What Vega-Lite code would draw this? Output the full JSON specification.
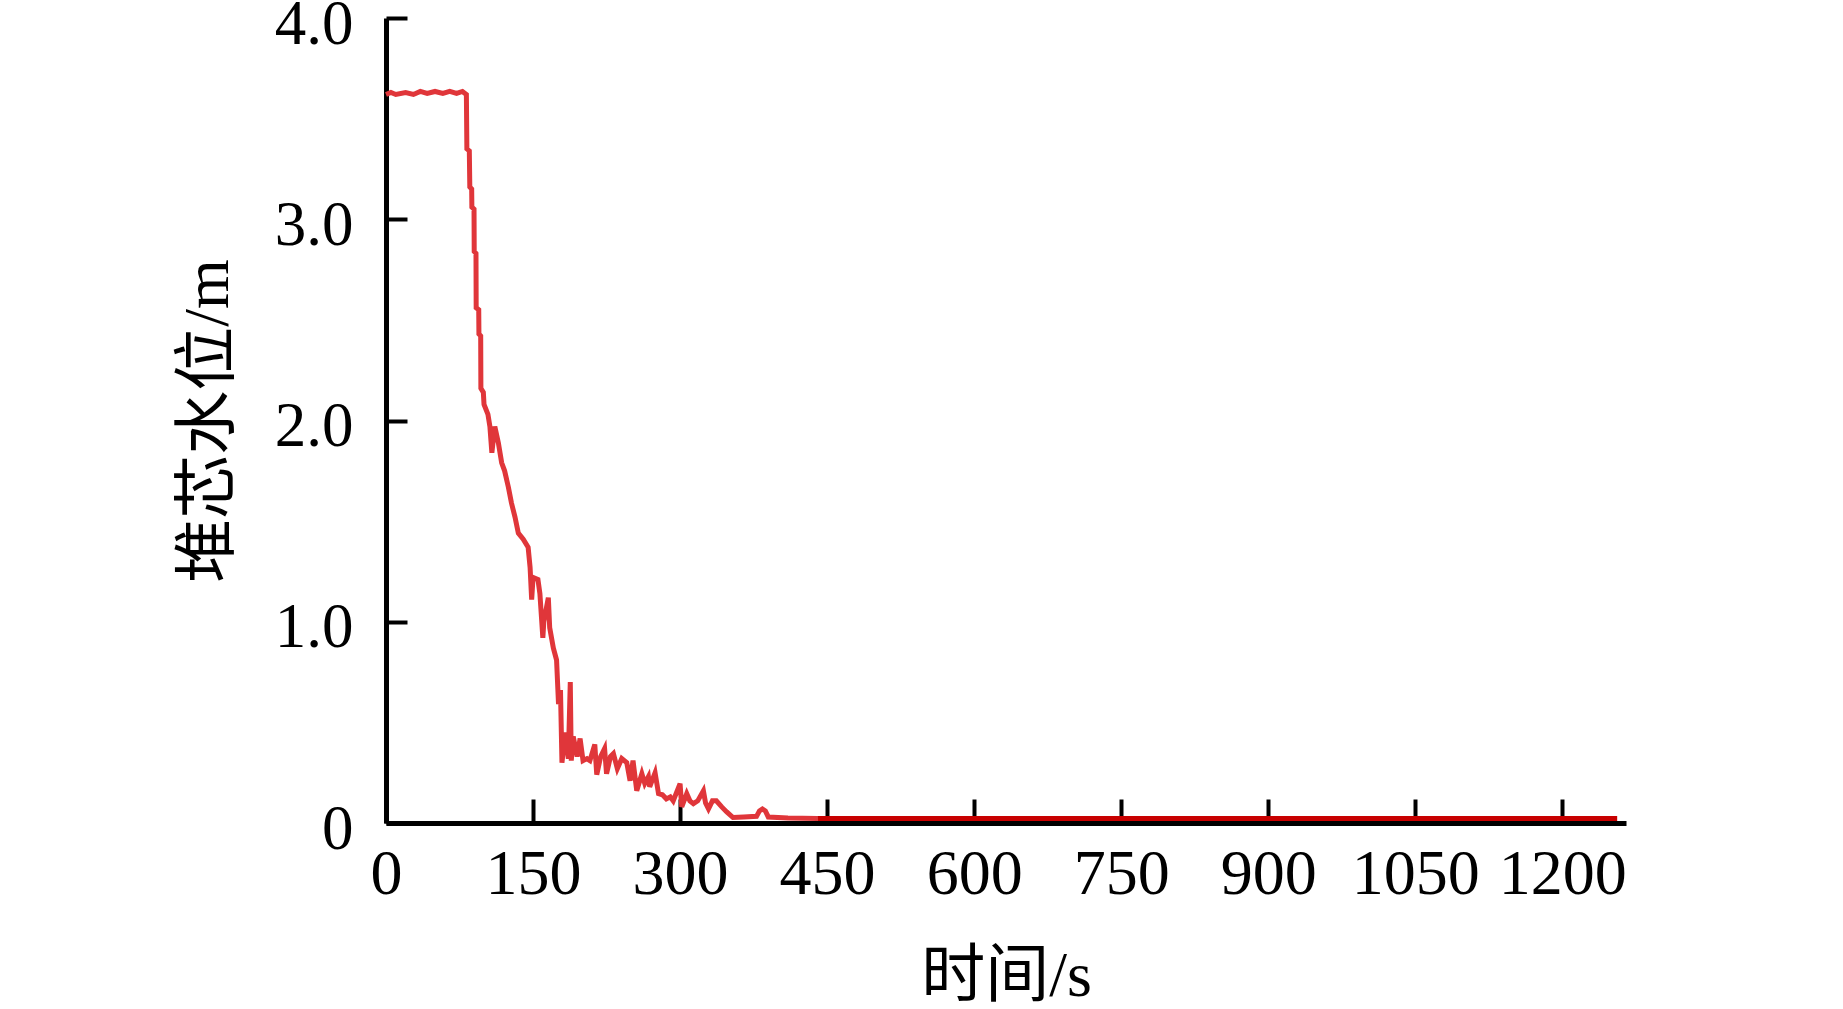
{
  "$schema": "https://vega.github.io/schema/vega-lite/v6.json",
  "autosize": {"type": "none"},
  "padding": {"left": 386, "top": 18, "right": 217, "bottom": 186},
  "width": 1240,
  "height": 805,
  "background": "white",
  "config": {
    "view": {"stroke": null},
    "font": "Liberation Serif, Noto Sans CJK SC",
    "axis": {
      "grid": false,
      "domainColor": "black",
      "domainWidth": 5,
      "tickColor": "black",
      "tickWidth": 4,
      "labelColor": "black",
      "titleColor": "black",
      "labelFont": "Liberation Serif",
      "titleFont": "Liberation Serif, Noto Sans CJK SC",
      "titleFontWeight": "normal"
    }
  },
  "data": {
    "values": [
      {"t": 0, "h": 3.62, "seg": "a"},
      {"t": 5, "h": 3.63, "seg": "a"},
      {"t": 10, "h": 3.62, "seg": "a"},
      {"t": 20, "h": 3.63, "seg": "a"},
      {"t": 28, "h": 3.62, "seg": "a"},
      {"t": 35, "h": 3.635, "seg": "a"},
      {"t": 42, "h": 3.625, "seg": "a"},
      {"t": 50, "h": 3.635, "seg": "a"},
      {"t": 58, "h": 3.625, "seg": "a"},
      {"t": 65, "h": 3.635, "seg": "a"},
      {"t": 72, "h": 3.625, "seg": "a"},
      {"t": 78, "h": 3.635, "seg": "a"},
      {"t": 82, "h": 3.62, "seg": "a"},
      {"t": 82.5, "h": 3.35, "seg": "a"},
      {"t": 85, "h": 3.34, "seg": "a"},
      {"t": 85.5, "h": 3.16, "seg": "a"},
      {"t": 87.4, "h": 3.15, "seg": "a"},
      {"t": 87.6, "h": 3.06, "seg": "a"},
      {"t": 89.8, "h": 3.05, "seg": "a"},
      {"t": 90, "h": 2.84, "seg": "a"},
      {"t": 91.8, "h": 2.83, "seg": "a"},
      {"t": 92, "h": 2.56, "seg": "a"},
      {"t": 94.6, "h": 2.55, "seg": "a"},
      {"t": 94.8, "h": 2.43, "seg": "a"},
      {"t": 96.6, "h": 2.42, "seg": "a"},
      {"t": 96.8, "h": 2.16, "seg": "a"},
      {"t": 99.3, "h": 2.14, "seg": "a"},
      {"t": 100, "h": 2.08, "seg": "a"},
      {"t": 104, "h": 2.03, "seg": "a"},
      {"t": 106, "h": 1.97, "seg": "a"},
      {"t": 108, "h": 1.84, "seg": "a"},
      {"t": 111, "h": 1.97, "seg": "a"},
      {"t": 114.6, "h": 1.89, "seg": "a"},
      {"t": 118, "h": 1.79, "seg": "a"},
      {"t": 121, "h": 1.75, "seg": "a"},
      {"t": 124.8, "h": 1.67, "seg": "a"},
      {"t": 128, "h": 1.59, "seg": "a"},
      {"t": 131.6, "h": 1.52, "seg": "a"},
      {"t": 135, "h": 1.44, "seg": "a"},
      {"t": 140, "h": 1.41, "seg": "a"},
      {"t": 145, "h": 1.37, "seg": "a"},
      {"t": 147, "h": 1.27, "seg": "a"},
      {"t": 148.6, "h": 1.11, "seg": "a"},
      {"t": 150, "h": 1.22, "seg": "a"},
      {"t": 155, "h": 1.21, "seg": "a"},
      {"t": 157, "h": 1.14, "seg": "a"},
      {"t": 160, "h": 0.92, "seg": "a"},
      {"t": 161, "h": 1.0, "seg": "a"},
      {"t": 165.6, "h": 1.12, "seg": "a"},
      {"t": 167, "h": 0.97, "seg": "a"},
      {"t": 170.7, "h": 0.87, "seg": "a"},
      {"t": 174, "h": 0.81, "seg": "a"},
      {"t": 176, "h": 0.59, "seg": "a"},
      {"t": 178, "h": 0.66, "seg": "a"},
      {"t": 179.5, "h": 0.30, "seg": "a"},
      {"t": 183, "h": 0.45, "seg": "a"},
      {"t": 186, "h": 0.32, "seg": "a"},
      {"t": 188, "h": 0.70, "seg": "a"},
      {"t": 189, "h": 0.31, "seg": "a"},
      {"t": 191, "h": 0.43, "seg": "a"},
      {"t": 195, "h": 0.33, "seg": "a"},
      {"t": 198, "h": 0.42, "seg": "a"},
      {"t": 201, "h": 0.31, "seg": "a"},
      {"t": 205, "h": 0.32, "seg": "a"},
      {"t": 208, "h": 0.31, "seg": "a"},
      {"t": 213, "h": 0.39, "seg": "a"},
      {"t": 215, "h": 0.24, "seg": "a"},
      {"t": 219, "h": 0.33, "seg": "a"},
      {"t": 223, "h": 0.37, "seg": "a"},
      {"t": 225, "h": 0.245, "seg": "a"},
      {"t": 229, "h": 0.33, "seg": "a"},
      {"t": 232, "h": 0.345, "seg": "a"},
      {"t": 236, "h": 0.27, "seg": "a"},
      {"t": 240.5, "h": 0.32, "seg": "a"},
      {"t": 245.6, "h": 0.30, "seg": "a"},
      {"t": 249, "h": 0.21, "seg": "a"},
      {"t": 252, "h": 0.31, "seg": "a"},
      {"t": 255.8, "h": 0.16, "seg": "a"},
      {"t": 261, "h": 0.245, "seg": "a"},
      {"t": 264, "h": 0.196, "seg": "a"},
      {"t": 267.7, "h": 0.23, "seg": "a"},
      {"t": 269, "h": 0.18, "seg": "a"},
      {"t": 274.5, "h": 0.25, "seg": "a"},
      {"t": 278, "h": 0.146, "seg": "a"},
      {"t": 282, "h": 0.14, "seg": "a"},
      {"t": 286, "h": 0.12, "seg": "a"},
      {"t": 290, "h": 0.13, "seg": "a"},
      {"t": 293, "h": 0.11, "seg": "a"},
      {"t": 300, "h": 0.196, "seg": "a"},
      {"t": 301.7, "h": 0.08, "seg": "a"},
      {"t": 306.8, "h": 0.146, "seg": "a"},
      {"t": 310, "h": 0.11, "seg": "a"},
      {"t": 313.6, "h": 0.096, "seg": "a"},
      {"t": 318, "h": 0.11, "seg": "a"},
      {"t": 323.8, "h": 0.16, "seg": "a"},
      {"t": 326, "h": 0.10, "seg": "a"},
      {"t": 329, "h": 0.07, "seg": "a"},
      {"t": 333, "h": 0.11, "seg": "a"},
      {"t": 337, "h": 0.11, "seg": "a"},
      {"t": 342.5, "h": 0.08, "seg": "a"},
      {"t": 347.6, "h": 0.055, "seg": "a"},
      {"t": 354, "h": 0.027, "seg": "a"},
      {"t": 365, "h": 0.03, "seg": "a"},
      {"t": 378, "h": 0.033, "seg": "a"},
      {"t": 381, "h": 0.06, "seg": "a"},
      {"t": 384, "h": 0.07, "seg": "a"},
      {"t": 387, "h": 0.06, "seg": "a"},
      {"t": 390, "h": 0.03, "seg": "a"},
      {"t": 410, "h": 0.025, "seg": "a"},
      {"t": 440, "h": 0.022, "seg": "a"},
      {"t": 440, "h": 0.022, "seg": "b"},
      {"t": 600, "h": 0.022, "seg": "b"},
      {"t": 800, "h": 0.022, "seg": "b"},
      {"t": 1000, "h": 0.022, "seg": "b"},
      {"t": 1256, "h": 0.022, "seg": "b"}
    ]
  },
  "mark": {"type": "line", "strokeWidth": 5, "clip": false},
  "encoding": {
    "x": {
      "field": "t",
      "type": "quantitative",
      "scale": {"domain": [0, 1265], "nice": false, "zero": false},
      "axis": {
        "title": "时间/s",
        "values": [0, 150, 300, 450, 600, 750, 900, 1050, 1200],
        "format": "d",
        "tickSize": -24,
        "labelFontSize": 64,
        "labelPadding": 43,
        "labelFlush": false,
        "labelOverlap": false,
        "titleFontSize": 64,
        "titlePadding": 38
      }
    },
    "y": {
      "field": "h",
      "type": "quantitative",
      "scale": {"domain": [0, 4], "nice": false},
      "axis": {
        "title": "堆芯水位/m",
        "values": [0, 1, 2, 3, 4],
        "labelExpr": "datum.value == 0 ? '0' : format(datum.value, '.1f')",
        "tickSize": -21,
        "labelFontSize": 63,
        "labelPadding": 54,
        "labelOffset": 6,
        "labelFlush": false,
        "labelOverlap": false,
        "titleFontSize": 64,
        "titlePadding": 34
      }
    },
    "color": {
      "field": "seg",
      "type": "nominal",
      "scale": {"domain": ["a", "b"], "range": ["#e0363a", "#c80000"]},
      "legend": null
    }
  }
}
